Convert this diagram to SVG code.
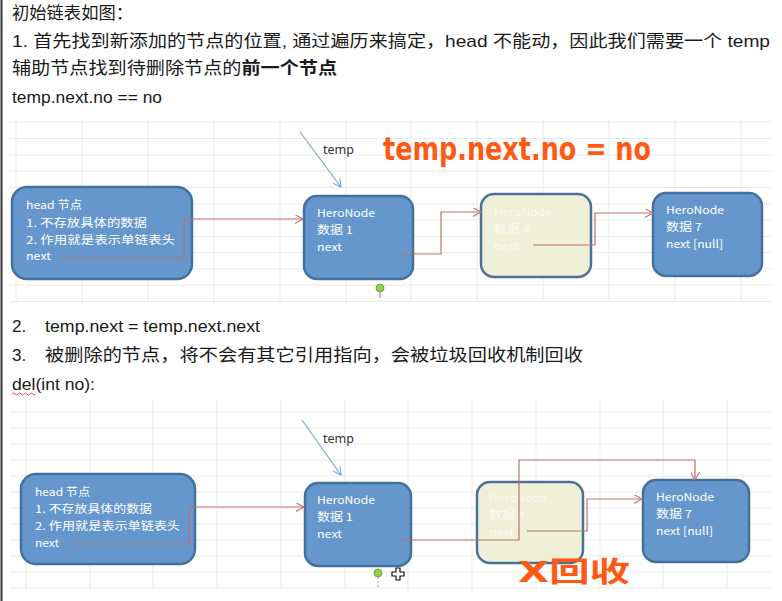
<svg xmlns="http://www.w3.org/2000/svg" width="782" height="601" viewBox="0 0 782 601">
<defs>
<style>
.doc{font-family:"Liberation Sans","Noto Sans CJK SC",sans-serif;font-size:17px;fill:#1a1a1a}
.grid{stroke:#e9e9e9;stroke-width:1;fill:none}
.node{fill:#6597cc;stroke:#41719c;stroke-width:2.5}
.cream{fill:#f0f0d8;stroke:#4a7299;stroke-width:2.5}
.nt{font-family:"Noto Sans CJK SC","Noto Sans",sans-serif;font-size:11px;fill:#ffffff}
.ct{font-family:"Noto Sans CJK SC","Noto Sans",sans-serif;font-size:11px;fill:#fafaf2}
.link{fill:none;stroke:#c0706c;stroke-width:1.2}
.tptr{fill:none;stroke:#7fa6cc;stroke-width:1.2}
.tlabel{font-family:"Noto Sans","Liberation Sans",sans-serif;font-size:12.5px;fill:#333}
.hand{font-family:"DejaVu Sans","Noto Sans CJK SC",sans-serif;font-weight:bold;fill:#ff5a14}
</style>
<marker id="ar" viewBox="0 0 10 10" refX="9" refY="5" markerWidth="9" markerHeight="9" markerUnits="userSpaceOnUse" orient="auto">
<path d="M0,0 L9,5 L0,10" fill="none" stroke="#c0706c" stroke-width="1.2"/>
</marker>
<marker id="ab" viewBox="0 0 10 10" refX="9" refY="5" markerWidth="9" markerHeight="9" markerUnits="userSpaceOnUse" orient="auto">
<path d="M0,0 L9,5 L0,10" fill="none" stroke="#7fa6cc" stroke-width="1.2"/>
</marker>
</defs>
<rect width="782" height="601" fill="#ffffff"/>
<line x1="1.5" y1="0" x2="1.5" y2="601" stroke="#333" stroke-width="2"/>

<!-- document text -->
<g id="doc-text">
<text class="doc" x="12" y="19" textLength="121" lengthAdjust="spacingAndGlyphs">初始链表如图：</text>
<text class="doc" x="12" y="47" textLength="758" lengthAdjust="spacingAndGlyphs">1. 首先找到新添加的节点的位置, 通过遍历来搞定，head  不能动，因此我们需要一个 temp</text>
<text class="doc" x="12" y="74" textLength="325" lengthAdjust="spacingAndGlyphs">辅助节点找到待删除节点的<tspan font-weight="bold">前一个节点</tspan></text>
<text class="doc" x="12" y="103" textLength="150" lengthAdjust="spacingAndGlyphs">temp.next.no == no</text>
<text class="doc" x="12" y="332">2.</text>
<text class="doc" x="45" y="332" textLength="215" lengthAdjust="spacingAndGlyphs">temp.next = temp.next.next</text>
<text class="doc" x="12" y="361">3.</text>
<text class="doc" x="45" y="361" textLength="538" lengthAdjust="spacingAndGlyphs">被删除的节点，将不会有其它引用指向，会被垃圾回收机制回收</text>
<text class="doc" x="12" y="390" textLength="83" lengthAdjust="spacingAndGlyphs">del(int no):</text>
<path d="M12,394 q1.5,-2 3,0 t3,0 t3,0 t3,0 t3,0 t3,0 t3,0 t3,0" fill="none" stroke="#e03030" stroke-width="0.9"/>
</g>

<!-- grids -->
<g id="grid1" class="grid">
<path d="M10,122H771M10,138.5H771M10,155H771M10,171H771M10,187.5H771M10,204H771M10,220H771M10,236.5H771M10,252.5H771M10,269H771M10,285H771M10,301.5H771"/>
<path d="M16,120V302M82,120V302M148,120V302M214,120V302M280,120V302M346,120V302M411,120V302M477,120V302M543,120V302M609,120V302M675,120V302M741,120V302"/>
</g>
<g id="grid2" class="grid">
<path d="M10,412H771M10,428H771M10,444H771M10,460H771M10,476H771M10,492H771M10,508H771M10,524H771M10,540H771M10,556H771M10,572H771M10,588H771"/>
<path d="M26,400V590M90,400V590M153,400V590M217,400V590M281,400V590M345,400V590M408,400V590M472,400V590M536,400V590M600,400V590M663,400V590M727,400V590"/>
</g>

<!-- diagram 1 nodes -->
<g id="d1-head">
<rect class="node" x="12" y="187" width="180" height="92" rx="15"/>
<text class="nt" x="26" y="209" textLength="56" lengthAdjust="spacingAndGlyphs">head 节点</text>
<text class="nt" x="26" y="227" textLength="121" lengthAdjust="spacingAndGlyphs">1. 不存放具体的数据</text>
<text class="nt" x="26" y="244" textLength="149" lengthAdjust="spacingAndGlyphs">2. 作用就是表示单链表头</text>
<text class="nt" x="26" y="260" textLength="25" lengthAdjust="spacingAndGlyphs">next</text>
</g>
<g id="d1-node1">
<rect class="node" x="304" y="196" width="109" height="83" rx="13"/>
<text class="nt" x="317" y="217" textLength="58" lengthAdjust="spacingAndGlyphs">HeroNode</text>
<text class="nt" x="317" y="234" textLength="36" lengthAdjust="spacingAndGlyphs">数据 1</text>
<text class="nt" x="317" y="251" textLength="25" lengthAdjust="spacingAndGlyphs">next</text>
</g>
<g id="d1-node4">
<rect class="cream" x="481" y="194" width="110" height="83" rx="13"/>
<text class="ct" x="494" y="216" textLength="58" lengthAdjust="spacingAndGlyphs">HeroNode</text>
<text class="ct" x="494" y="233" textLength="36" lengthAdjust="spacingAndGlyphs">数据 4</text>
<text class="ct" x="494" y="250" textLength="25" lengthAdjust="spacingAndGlyphs">next</text>
</g>
<g id="d1-node7">
<rect class="node" x="653" y="193" width="109" height="83" rx="13"/>
<text class="nt" x="666" y="214" textLength="58" lengthAdjust="spacingAndGlyphs">HeroNode</text>
<text class="nt" x="666" y="231" textLength="36" lengthAdjust="spacingAndGlyphs">数据 7</text>
<text class="nt" x="666" y="248" textLength="57" lengthAdjust="spacingAndGlyphs">next [null]</text>
</g>
<g id="d1-temp">
<text class="tlabel" x="323" y="154">temp</text>
</g>

<!-- diagram 2 nodes -->
<g id="d2-head">
<rect class="node" x="21" y="474" width="174" height="90" rx="15"/>
<text class="nt" x="35" y="496" textLength="55" lengthAdjust="spacingAndGlyphs">head 节点</text>
<text class="nt" x="35" y="513" textLength="117" lengthAdjust="spacingAndGlyphs">1. 不存放具体的数据</text>
<text class="nt" x="35" y="530" textLength="145" lengthAdjust="spacingAndGlyphs">2. 作用就是表示单链表头</text>
<text class="nt" x="35" y="547" textLength="24" lengthAdjust="spacingAndGlyphs">next</text>
</g>
<g id="d2-node1">
<rect class="node" x="305" y="483" width="106" height="83" rx="13"/>
<text class="nt" x="317" y="504" textLength="58" lengthAdjust="spacingAndGlyphs">HeroNode</text>
<text class="nt" x="317" y="521" textLength="36" lengthAdjust="spacingAndGlyphs">数据 1</text>
<text class="nt" x="317" y="538" textLength="25" lengthAdjust="spacingAndGlyphs">next</text>
</g>
<g id="d2-node4">
<rect class="cream" x="477" y="482" width="106" height="81" rx="13"/>
<text class="ct" x="489" y="502" textLength="58" lengthAdjust="spacingAndGlyphs">HeroNode</text>
<text class="ct" x="489" y="519" textLength="36" lengthAdjust="spacingAndGlyphs">数据 4</text>
<text class="ct" x="489" y="536" textLength="25" lengthAdjust="spacingAndGlyphs">next</text>
</g>
<g id="d2-node7">
<rect class="node" x="643" y="480" width="106" height="82" rx="13"/>
<text class="nt" x="656" y="501" textLength="58" lengthAdjust="spacingAndGlyphs">HeroNode</text>
<text class="nt" x="656" y="518" textLength="36" lengthAdjust="spacingAndGlyphs">数据 7</text>
<text class="nt" x="656" y="535" textLength="57" lengthAdjust="spacingAndGlyphs">next [null]</text>
</g>
<g id="d2-temp">
<text class="tlabel" x="323" y="443">temp</text>
</g>

<!-- connectors -->
<g id="connectors">
<path class="link" d="M63,258 H184 V219 H303" marker-end="url(#ar)"/>
<path class="link" d="M398,254 H441 V212 H481" marker-end="url(#ar)"/>
<path class="link" d="M533,245 H595 V213 H653" marker-end="url(#ar)"/>
<path class="tptr" d="M300,132 L341,187" marker-end="url(#ab)"/>
<path class="link" d="M72,544 H189 V507 H304" marker-end="url(#ar)"/>
<path class="link" d="M398,540 H519 V460 H695 V480" marker-end="url(#ar)"/>
<path class="link" d="M527,531 H587 V499 H642" marker-end="url(#ar)"/>
<path class="tptr" d="M302,420 L341,475" marker-end="url(#ab)"/>
</g>

<!-- handles / cursor -->
<g id="handles">
<line x1="380" y1="292" x2="380" y2="298" stroke="#888" stroke-width="1"/>
<circle cx="380" cy="288" r="4" fill="#8fd14f" stroke="#5f9a30" stroke-width="0.8"/>
<line x1="378" y1="577" x2="378" y2="589" stroke="#999" stroke-width="1" stroke-dasharray="2,2"/>
<circle cx="378" cy="573" r="4" fill="#8fd14f" stroke="#5f9a30" stroke-width="0.8"/>
<path d="M396,568 h4 v4 h4 v4 h-4 v4 h-4 v-4 h-4 v-4 h4 z" fill="#fff" stroke="#111" stroke-width="1.2"/>
</g>

<!-- handwritten annotations -->
<g id="annotations">
<text class="hand" x="383" y="160" font-size="32" textLength="268" lengthAdjust="spacingAndGlyphs">temp.next.no = no</text>
<text class="hand" x="518" y="582" font-size="28" textLength="112" lengthAdjust="spacingAndGlyphs">X回收</text>
</g>
</svg>
